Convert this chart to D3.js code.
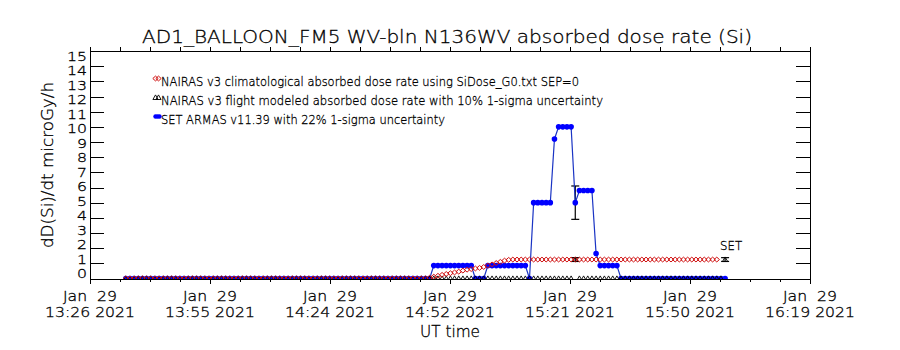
<!DOCTYPE html>
<html><head><meta charset="utf-8">
<script src="https://cdn.jsdelivr.net/npm/d3@7"></script>
<style>
body{margin:0;background:#fff}
svg text{font-family:"DejaVu Sans","Liberation Sans",sans-serif;font-weight:200;fill:#000;stroke:#000;stroke-width:0.3px;white-space:pre}
</style>
</head><body>
<svg id="c" width="900" height="350"></svg>
<script>
const title = "AD1_BALLOON_FM5 WV-bln N136WV absorbed dose rate (Si)";
const yTitle = "dD(Si)/dt microGy/h";
const xTitle = "UT time";
const xTickDates = ["Jan  29","Jan  29","Jan  29","Jan  29","Jan  29","Jan  29","Jan  29"];
const xTickTimes = ["13:26 2021","13:55 2021","14:24 2021","14:52 2021","15:21 2021","15:50 2021","16:19 2021"];
// minutes after 13:26 UT
const xTickMinutes = [0, 28.83, 57.67, 86.5, 115.33, 144.17, 173];
const yTicks = [0,1,2,3,4,5,6,7,8,9,10,11,12,13,14,15];
const legendLabels = [
  "NAIRAS v3 climatological absorbed dose rate using SiDose_G0.txt SEP=0",
  "NAIRAS v3 flight modeled absorbed dose rate with 10% 1-sigma uncertainty",
  "SET ARMAS v11.39 with 22% 1-sigma uncertainty"
];
// first sample time (minutes after 13:26 UT), 1-minute cadence
const sampleStart = 8.6;
const setValues = [
 0,0,0,0,0,0,0,0,0,0,
 0,0,0,0,0,0,0,0,0,0,
 0,0,0,0,0,0,0,0,0,0,
 0,0,0,0,0,0,0,0,0,0,
 0,0,0,0,0,0,0,0,0,0,
 0,0,0,0,0,0,0,0,0,0,
 0,0,0,0,0,0,0,0,0,0,
 0,0,0,0,
 0.85,0.85,0.85,0.85,0.85,0.85,0.85,0.85,0.85,0.85,
 0,0,0,
 0.85,0.85,0.85,0.85,0.85,0.85,0.85,0.85,0.85,0.85,
 0,
 5,5,5,5,5,
 9.2,
 10,10,10,10,
 5,
 5.8,5.8,5.8,5.8,
 1.64,
 0.85,0.85,0.85,0.85,0.85,
 0,0,0,0,0,0,0,0,0,0,
 0,0,0,0,0,0,0,0,0,0,
 0,0,0,0,0,0
];
const nairasClimValues = [
 0,0,0,0,0,0,0,0,0,0,
 0,0,0,0,0,0,0,0,0,0,
 0,0,0,0,0,0,0,0,0,0,
 0,0,0,0,0,0,0,0,0,0,
 0,0,0,0,0,0,0,0,0,0,
 0,0,0,0,0,0,0,0,0,0,
 0,0,0,0,0,0,0,0,0,0,
 0,0,0,
 0.05,0.12,0.18,0.24,0.3,0.35,0.4,0.45,0.52,0.58,
 0.62,0.66,0.7,0.76,0.85,0.93,1.02,1.1,1.18,1.23,
 1.25,1.25,1.25,1.25,1.25,1.25,1.25,1.25,1.25,1.25,
 1.25,1.25,1.25,1.25,1.25,1.25,1.25,1.25,1.25,1.25,
 1.25,1.25,1.25,1.25,1.25,1.25,1.25,1.25,1.25,1.25,
 1.25,1.25,1.25,1.25,1.25,1.25,1.25,1.25,1.25,1.25,
 1.25,1.25,1.25,1.25,1.25,1.25,1.25,1.25,1.25,1.25
];
const nairasFlightValues = [
 0,0,0,0,0,0,0,0,0,0,
 0,0,0,0,0,0,0,0,0,0,
 0,0,0,0,0,0,0,0,0,0,
 0,0,0,0,0,0,0,0,0,0,
 0,0,0,0,0,0,0,0,0,0,
 0,0,0,0,0,0,0,0,0,0,
 0,0,0,0,0,0,0,0,0,0,
 0,0,0,0,0,0,0,0,0,0,
 0,0,0,0,0,0,0,0,0,0,
 0,0,0,0,0,0,0,0,0,0,
 0,0,0,0,0,0,0,0,
 1.25,
 0,0,0,0,0,0,0,0,0,0,
 0,0,0,0,0,0,0,0,0,0,
 0,0,0,0,0,0,0,0,0,0,
 0,0,0,0,0,
 1.25
];
const errTimes = [116.6, 116.6, 152.6];
const errValues = [5.0, 1.25, 1.25];
const errSigmas = [1.1, 0.125, 0.125];
const setLabel = "SET";

const svg = d3.select("#c");
const L = 90, R = 810, T = 51, B = 278.5;
const x = d3.scaleLinear().domain([0, 173]).range([L, R]);
const y = d3.scaleLinear().domain([0, 15]).range([B, T]);
const yLabelPos = d3.scaleLinear().domain([0, 15]).range([273.8, 56.5]);

const toPts = vals => vals.map((v, i) => ({t: sampleStart + i, v}));
const setPts = toPts(setValues);
const climPts = toPts(nairasClimValues);
const flightPts = toPts(nairasFlightValues);

svg.append("defs").append("clipPath").attr("id", "clip")
  .append("rect").attr("x", L).attr("y", T).attr("width", R - L).attr("height", B - T + 0.5);

// plot box
svg.append("rect").attr("x", L + 0.5).attr("y", T + 0.5).attr("width", R - L).attr("height", B - T)
  .attr("fill", "none").attr("stroke", "#000").attr("stroke-width", 1).attr("shape-rendering", "crispEdges");

// minor x ticks (4 intervals between majors)
const minor = [];
for (let i = 0; i < xTickMinutes.length - 1; i++) {
  const a = xTickMinutes[i], b = xTickMinutes[i + 1];
  for (let k = 1; k < 4; k++) minor.push(a + (b - a) * k / 4);
}
const axisG = svg.append("g").attr("shape-rendering", "crispEdges");
function drawAxis(axis, tx, ty) {
  const g = axisG.append("g").attr("transform", `translate(${tx},${ty})`).call(axis);
  g.select(".domain").remove();
  g.selectAll("text").remove();
  g.selectAll("line").attr("stroke", "#000");
  return g;
}
drawAxis(d3.axisTop(x).tickValues(xTickMinutes).tickSize(-5).tickFormat(""), 0, B + 0.5);
drawAxis(d3.axisTop(x).tickValues(minor).tickSize(-3).tickFormat(""), 0, B + 0.5);
drawAxis(d3.axisBottom(x).tickValues(xTickMinutes.concat(minor)).tickSize(-4).tickFormat(""), 0, T);
drawAxis(d3.axisRight(y).tickValues(yTicks).tickSize(14).tickFormat(""), L, 0);
drawAxis(d3.axisLeft(y).tickValues(yTicks).tickSize(14).tickFormat(""), R, 0);

// y tick labels
svg.append("g").selectAll("text").data(yTicks).join("text")
  .attr("x", 87).attr("y", d => yLabelPos(d)).attr("dy", "0.36em")
  .attr("text-anchor", "end").attr("font-size", 12.2)
  .attr("textLength", d => d >= 10 ? 20 : 10).attr("lengthAdjust", "spacingAndGlyphs")
  .text(d => d);

// x tick labels
const xl = svg.append("g");
xl.selectAll("text.d").data(xTickMinutes).join("text").attr("class", "d")
  .attr("x", d => x(d)).attr("y", 301).attr("text-anchor", "middle").attr("font-size", 13.6)
  .attr("textLength", 54).attr("lengthAdjust", "spacingAndGlyphs")
  .text((d, i) => xTickDates[i]);
xl.selectAll("text.t").data(xTickMinutes).join("text").attr("class", "t")
  .attr("x", d => x(d)).attr("y", 317).attr("text-anchor", "middle").attr("font-size", 13.6)
  .attr("textLength", 90).attr("lengthAdjust", "spacingAndGlyphs")
  .text((d, i) => xTickTimes[i]);

// titles
svg.append("text").attr("x", 447).attr("y", 43).attr("text-anchor", "middle").attr("font-size", 18)
  .attr("textLength", 610).attr("lengthAdjust", "spacingAndGlyphs").text(title);
svg.append("text").attr("x", 450).attr("y", 337).attr("text-anchor", "middle").attr("font-size", 15)
  .attr("textLength", 60).attr("lengthAdjust", "spacingAndGlyphs").text(xTitle);
svg.append("text").attr("transform", "translate(53,165) rotate(-90)").attr("text-anchor", "middle")
  .attr("font-size", 16).attr("textLength", 166).attr("lengthAdjust", "spacingAndGlyphs").text(yTitle);

// symbols
const diamond = "M0,-2.4L2.7,0L0,2.4L-2.7,0Z";
const triangle = "M0,-2.6L2.6,2L-2.6,2Z";
const RED = "#d01010", BLUE = "#0000ff", BLUEL = "#1a34c4";

const plot = svg.append("g").attr("clip-path", "url(#clip)");

// error bars
const eb = plot.append("g").attr("stroke", "#000").attr("stroke-width", 1.2);
errTimes.forEach((t, i) => {
  const cx = x(t), y0 = y(errValues[i] - errSigmas[i]), y1 = y(errValues[i] + errSigmas[i]);
  eb.append("line").attr("x1", cx).attr("x2", cx).attr("y1", y0).attr("y2", y1);
  eb.append("line").attr("x1", cx - 4).attr("x2", cx + 4).attr("y1", y0).attr("y2", y0);
  eb.append("line").attr("x1", cx - 4).attr("x2", cx + 4).attr("y1", y1).attr("y2", y1);
});

// SET ARMAS line + filled circles
plot.append("path").datum(setPts)
  .attr("d", d3.line().x(d => x(d.t)).y(d => y(d.v)))
  .attr("fill", "none").attr("stroke", BLUEL).attr("stroke-width", 1.2);
plot.append("g").selectAll("circle").data(setPts).join("circle")
  .attr("cx", d => x(d.t)).attr("cy", d => y(d.v)).attr("r", 2.8).attr("fill", BLUE);

// NAIRAS flight triangles
plot.append("g").selectAll("path").data(flightPts).join("path")
  .attr("d", triangle).attr("transform", d => `translate(${x(d.t)},${y(d.v)})`)
  .attr("fill", "none").attr("stroke", "#000").attr("stroke-width", 0.9);

// NAIRAS climatological diamonds
plot.append("g").selectAll("path").data(climPts).join("path")
  .attr("d", diamond).attr("transform", d => `translate(${x(d.t)},${y(d.v)})`)
  .attr("fill", "none").attr("stroke", RED).attr("stroke-width", 1);

// SET label
svg.append("text").attr("x", x(errTimes[2]) - 5).attr("y", y(errValues[2]) - 10)
  .attr("font-size", 13).attr("textLength", 22).attr("lengthAdjust", "spacingAndGlyphs").text(setLabel);

// legend
const legY = [85.5, 104.5, 123.5];
const legW = [418, 442, 284];
const lg = svg.append("g");
legendLabels.forEach((s, i) => {
  lg.append("text").attr("x", 161).attr("y", legY[i]).attr("font-size", 12.5)
    .attr("textLength", legW[i]).attr("lengthAdjust", "spacingAndGlyphs").text(s);
});
[155.5, 158.5].forEach(cx => {
  lg.append("path").attr("d", diamond).attr("transform", `translate(${cx},${legY[0] - 7})`)
    .attr("fill", "none").attr("stroke", RED).attr("stroke-width", 1);
  lg.append("path").attr("d", triangle).attr("transform", `translate(${cx},${legY[1] - 7})`)
    .attr("fill", "none").attr("stroke", "#000").attr("stroke-width", 0.9);
});
[155.5, 157.5, 159.5].forEach(cx => {
  lg.append("circle").attr("cx", cx).attr("cy", legY[2] - 7).attr("r", 2.2).attr("fill", BLUE);
});
</script>
</body></html>
